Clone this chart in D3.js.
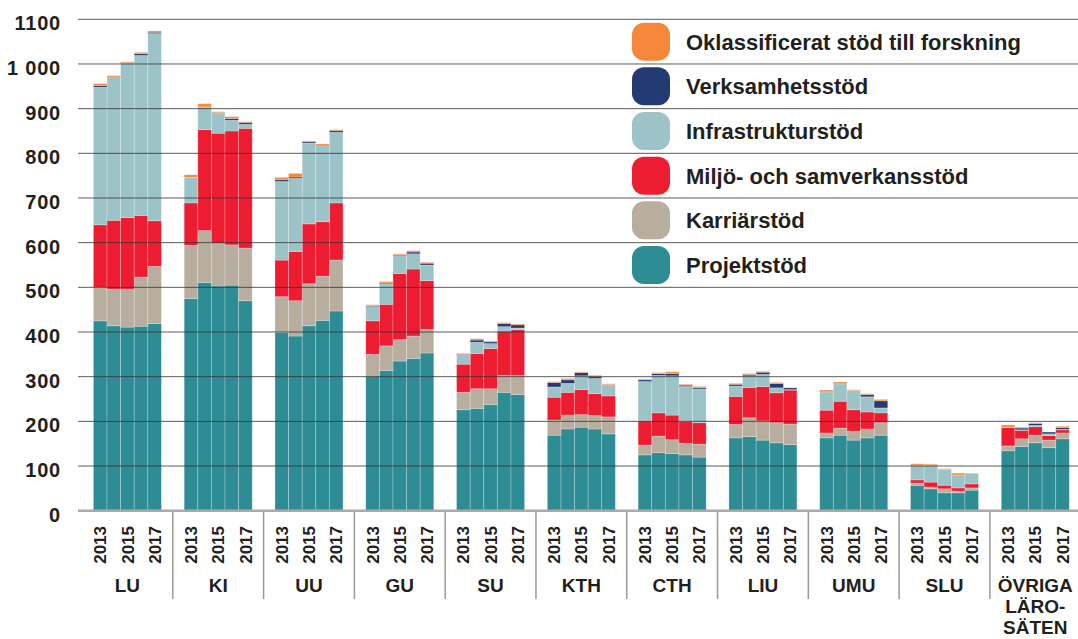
<!DOCTYPE html>
<html>
<head>
<meta charset="utf-8">
<script src="https://cdn.jsdelivr.net/npm/d3@7"></script>
<style>
  body { margin: 0; background: #fff; }
  svg { display: block; font-family: "Liberation Sans", Arial, sans-serif; font-weight: bold; }
</style>
</head>
<body>
<svg id="chart" width="1078" height="639"></svg>
<script>
// groups (universities) and years
const groups = ["LU", "KI", "UU", "GU", "SU", "KTH", "CTH", "LIU", "UMU", "SLU", "OVR"];
const groupLabels = [["LU"], ["KI"], ["UU"], ["GU"], ["SU"], ["KTH"], ["CTH"], ["LIU"], ["UMU"], ["SLU"], ["ÖVRIGA", "LÄRO-", "SÄTEN"]];
const years = ["2013", "2014", "2015", "2016", "2017"];
const yearLabels = ["2013", "2015", "2017"];

const yTicks = [0, 100, 200, 300, 400, 500, 600, 700, 800, 900, 1000, 1100];
const yTickLabels = ["0", "100", "200", "300", "400", "500", "600", "700", "800", "900", "1 000", "1100"];

// series, bottom to top (one row per group, 2013..2017)
const projekt = [
  [425, 414, 411, 413, 419], [475, 511, 503, 505, 470], [399, 391, 414, 426, 447],
  [301, 314, 335, 341, 353], [226, 229, 238, 265, 260], [169, 183, 187, 183, 172],
  [125, 130, 128, 125, 120], [163, 166, 158, 152, 148], [163, 169, 158, 163, 169],
  [57, 49, 40, 40, 46], [134, 144, 152, 141, 161]
];
const karriar = [
  [75, 82, 85, 110, 128], [119, 116, 95, 90, 118], [80, 79, 94, 99, 114],
  [49, 55, 48, 50, 53], [39, 44, 35, 38, 43], [34, 31, 28, 30, 38],
  [22, 37, 31, 26, 29], [30, 42, 43, 45, 46], [11, 16, 20, 20, 28],
  [5, 4, 9, 4, 5], [11, 17, 17, 17, 13]
];
const miljo = [
  [140, 154, 160, 138, 102], [95, 226, 247, 255, 268], [82, 110, 134, 122, 128],
  [75, 93, 148, 150, 109], [63, 79, 90, 99, 102], [51, 51, 56, 49, 47],
  [54, 52, 55, 49, 48], [63, 68, 77, 67, 76], [51, 60, 48, 38, 22],
  [7, 11, 8, 7, 9], [41, 19, 19, 10, 7]
];
const infra = [
  [308, 320, 346, 358, 419], [57, 51, 45, 24, 9], [176, 164, 181, 169, 158],
  [32, 46, 40, 34, 35], [20, 25, 11, 10, 4], [23, 20, 31, 34, 25],
  [88, 84, 88, 78, 75], [23, 26, 27, 11, 1], [41, 39, 43, 34, 11],
  [33, 37, 36, 29, 24], [1, 1, 3, 4, 1]
];
const verksamhet = [
  [4, 1, 1, 4, 3], [0, 0, 1, 4, 4], [4, 3, 3, 2, 4],
  [2, 2, 2, 4, 4], [2, 5, 4, 7, 7], [10, 8, 7, 4, 0],
  [4, 4, 5, 3, 3], [4, 3, 5, 10, 4], [0, 0, 0, 5, 16],
  [0, 0, 0, 0, 0], [0, 4, 4, 4, 4]
];
const oklass = [
  [4, 3, 2, 3, 3], [6, 7, 2, 4, 2], [5, 8, 2, 3, 2],
  [2, 3, 2, 3, 2], [2, 3, 2, 2, 2], [2, 3, 2, 3, 2],
  [2, 2, 4, 2, 3], [2, 2, 2, 2, 0], [4, 4, 2, 2, 3],
  [3, 3, 1, 4, 0], [5, 2, 2, 0, 3]
];

const seriesKeys = ["projekt", "karriar", "miljo", "infra", "verksamhet", "oklass"];
const seriesNames = ["Projektstöd", "Karriärstöd", "Miljö- och samverkansstöd", "Infrastrukturstöd", "Verksamhetsstöd", "Oklassificerat stöd till forskning"];
const seriesColors = ["#2e8c95", "#b8ae9f", "#ee1c31", "#9cc4c8", "#233a73", "#f5873a"];
const seriesData = [projekt, karriar, miljo, infra, verksamhet, oklass];

// build rows for d3.stack
const rows = [];
groups.forEach((g, gi) => {
  years.forEach((yr, yi) => {
    const row = { group: g, year: yr };
    seriesKeys.forEach((k, si) => { row[k] = seriesData[si][gi][yi]; });
    rows.push(row);
  });
});

const svg = d3.select("#chart");
const textColor = "#231f20";

const y = d3.scaleLinear().domain([0, 1100]).range([510.7, 19.3]);
const x0 = d3.scaleBand().domain(groups).range([82, 1080.7]);
const x1 = d3.scaleBand().domain(years).range([11.4, 79.4]);

const stacked = d3.stack().keys(seriesKeys)(rows);

// bars
svg.append("g")
  .selectAll("g")
  .data(stacked)
  .join("g")
    .attr("fill", (d, i) => seriesColors[i])
  .selectAll("rect")
  .data(d => d)
  .join("rect")
    .attr("x", d => x0(d.data.group) + x1(d.data.year))
    .attr("y", d => y(d[1]))
    .attr("width", x1.bandwidth())
    .attr("height", d => y(d[0]) - y(d[1]))
    .attr("stroke", "rgba(255,255,255,0.3)")
    .attr("stroke-width", 0.8);

// gridlines (drawn over bars)
svg.append("g")
  .selectAll("line")
  .data(yTicks.slice(1))
  .join("line")
    .attr("x1", 78)
    .attr("x2", 1078)
    .attr("y1", d => y(d))
    .attr("y2", d => y(d))
    .attr("stroke", "#333")
    .attr("stroke-opacity", 0.8)
    .attr("stroke-width", 1);

// baseline
svg.append("line")
  .attr("x1", 78).attr("x2", 1078)
  .attr("y1", y(0)).attr("y2", y(0))
  .attr("stroke", "#aaa")
  .attr("stroke-width", 2.5);

// y labels
const yAxis = svg.append("g")
  .attr("transform", "translate(61,0)")
  .call(d3.axisLeft(y).tickValues(yTicks).tickFormat((d, i) => yTickLabels[i]).tickSize(0).tickPadding(0));
yAxis.select(".domain").remove();
yAxis.selectAll("text")
  .attr("dy", "0.42em")
  .attr("y", 2)
  .attr("fill", textColor)
  .style("font-size", "20px")
  .style("font-weight", "bold")
  .style("letter-spacing", "0.8px")
  .style("font-family", "\"Liberation Sans\", Arial, sans-serif");

// group separators
svg.append("g")
  .selectAll("line")
  .data(groups.slice(1))
  .join("line")
    .attr("x1", d => x0(d))
    .attr("x2", d => x0(d))
    .attr("y1", y(0) + 1)
    .attr("y2", 599)
    .attr("stroke", "#999")
    .attr("stroke-width", 1.5);

// year labels (rotated)
const yearG = svg.append("g");
groups.forEach(g => {
  yearLabels.forEach(yr => {
    const cx = x0(g) + x1(yr) + x1.bandwidth() / 2;
    yearG.append("text")
      .attr("transform", `translate(${cx},526) rotate(-90)`)
      .attr("text-anchor", "end")
      .attr("dy", "0.36em")
      .attr("fill", textColor)
      .style("font-size", "17px")
      .text(yr);
  });
});

// group labels
const groupG = svg.append("g");
groups.forEach((g, gi) => {
  const cx = x0(g) + x0.bandwidth() / 2;
  groupLabels[gi].forEach((line, li) => {
    groupG.append("text")
      .attr("x", cx)
      .attr("y", 592 + li * 21)
      .attr("text-anchor", "middle")
      .attr("fill", textColor)
      .style("font-size", "19px")
      .text(line);
  });
});

// legend, top item first
const legend = svg.append("g");
const legendOrder = [5, 4, 3, 2, 1, 0];
legendOrder.forEach((si, i) => {
  const cy = y(1050 - i * 100);
  legend.append("rect")
    .attr("x", 632)
    .attr("y", cy - 19)
    .attr("width", 38)
    .attr("height", 38)
    .attr("rx", 12)
    .attr("fill", seriesColors[si]);
  legend.append("text")
    .attr("x", 686)
    .attr("y", cy + 8)
    .attr("fill", textColor)
    .style("font-size", "22px")
    .text(seriesNames[si]);
});
</script>
</body>
</html>
